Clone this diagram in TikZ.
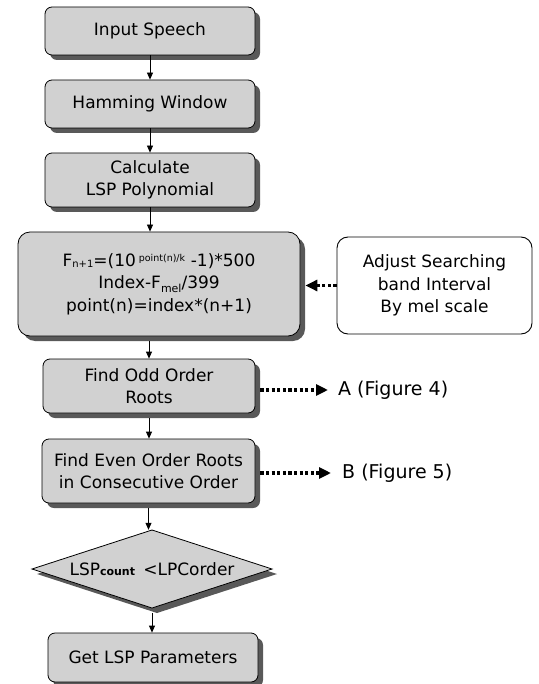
\documentclass[tikz,border=0pt]{standalone}
\usepackage{fontspec}
\setmainfont{DejaVu Sans}
\usetikzlibrary{shapes.geometric,shadows,arrows.meta}
\begin{document}
\begin{tikzpicture}[x=1pt,y=-1pt,
  font=\fontsize{17}{22.5}\selectfont,
  shad/.style={drop shadow={shadow xshift=5pt, shadow yshift=-5pt, fill=black!65, opacity=1}},
  proc/.style={draw=black, line width=0.8pt, rounded corners=7pt, fill=black!18, align=center,
    inner sep=0pt, minimum width=210pt, shad},
  note/.style={draw=black, line width=0.9pt, rounded corners=11pt, fill=white, align=center,
    inner sep=0pt, minimum width=195pt, minimum height=97pt},
  decishape/.style={draw=black, line width=0.8pt, fill=black!18, shad},
  flow/.style={line width=0.8pt, -{Triangle[length=7pt,width=6pt]}},
  dotarrow/.style={line width=3.2pt, dash pattern=on 3.2pt off 2.4pt, -{Triangle[length=12pt,width=11pt]}},
  lbl/.style={font=\fontsize{19}{22}\selectfont, inner sep=0pt, anchor=west}
]
\useasboundingbox (0,0) rectangle (538,684);

\node[proc, minimum height=48pt] (b1) at (150,31) {Input Speech};
\node[proc, minimum height=48pt] (b2) at (150,104) {Hamming Window};
\node[proc, minimum height=54pt] (b3) at (150,180) {Calculate\\LSP Polynomial};
\node[proc, minimum width=282pt, minimum height=104pt, rounded corners=12pt] (b4) at (159,284)
  {F{\fontsize{10}{10}\selectfont\raisebox{-1pt}{n+1}}=(10\,\raisebox{5pt}{\fontsize{9.5}{10}\selectfont point(n)/k}\,\,-1)*500\\
   Index-F\raisebox{-4pt}{\fontsize{11}{11}\selectfont mel}/399\\
   point(n)=index*(n+1)};
\node[note] (adj) at (434.5,285.5) {Adjust Searching\\band Interval\\By mel scale};
\node[proc, minimum width=212pt, minimum height=54pt] (b5) at (149,386) {Find Odd Order\\Roots};
\node[proc, minimum width=213pt, minimum height=64pt] (b6) at (148.5,471) {Find Even Order Roots\\in Consecutive Order};

\draw[decishape] (32,569) -- (152,530) -- (272,569) -- (152,608) -- cycle;
\node[inner sep=0pt, minimum width=240pt, minimum height=78pt] (d) at (152,569)
  {LSP{\fontsize{11}{11}\selectfont\bfseries count}\, <LPCorder};

\node[proc, minimum height=49pt] (b7) at (153,657.5) {Get LSP Parameters};

\node[lbl] (A) at (338,390) {A (Figure 4)};
\node[lbl] (B) at (342,473) {B (Figure 5)};

\draw[flow] (b1.south) -- (b2.north);
\draw[flow] (b2.south) -- (b3.north);
\draw[flow] (b3.south) -- (b3.south |- b4.north);
\draw[flow] ([yshift=-5pt]b4.south -| b5.north) -- (b5.north);
\draw[flow] ([yshift=-5pt]b5.south) -- (b5.south |- b6.north);
\draw[flow] ([yshift=-5pt]b6.south) -- (b6.south |- d.north);
\draw[flow] ([yshift=-5pt]d.south) -- (d.south |- b7.north);

\draw[dotarrow] (adj.west) -- ([xshift=5pt]adj.west -| b4.east);
\draw[dotarrow] ([xshift=5pt]b5.east |- A.west) -- ([xshift=-10pt]A.west);
\draw[dotarrow] ([xshift=5pt]b6.east |- B.west) -- ([xshift=-11pt]B.west);
\end{tikzpicture}
\end{document}
